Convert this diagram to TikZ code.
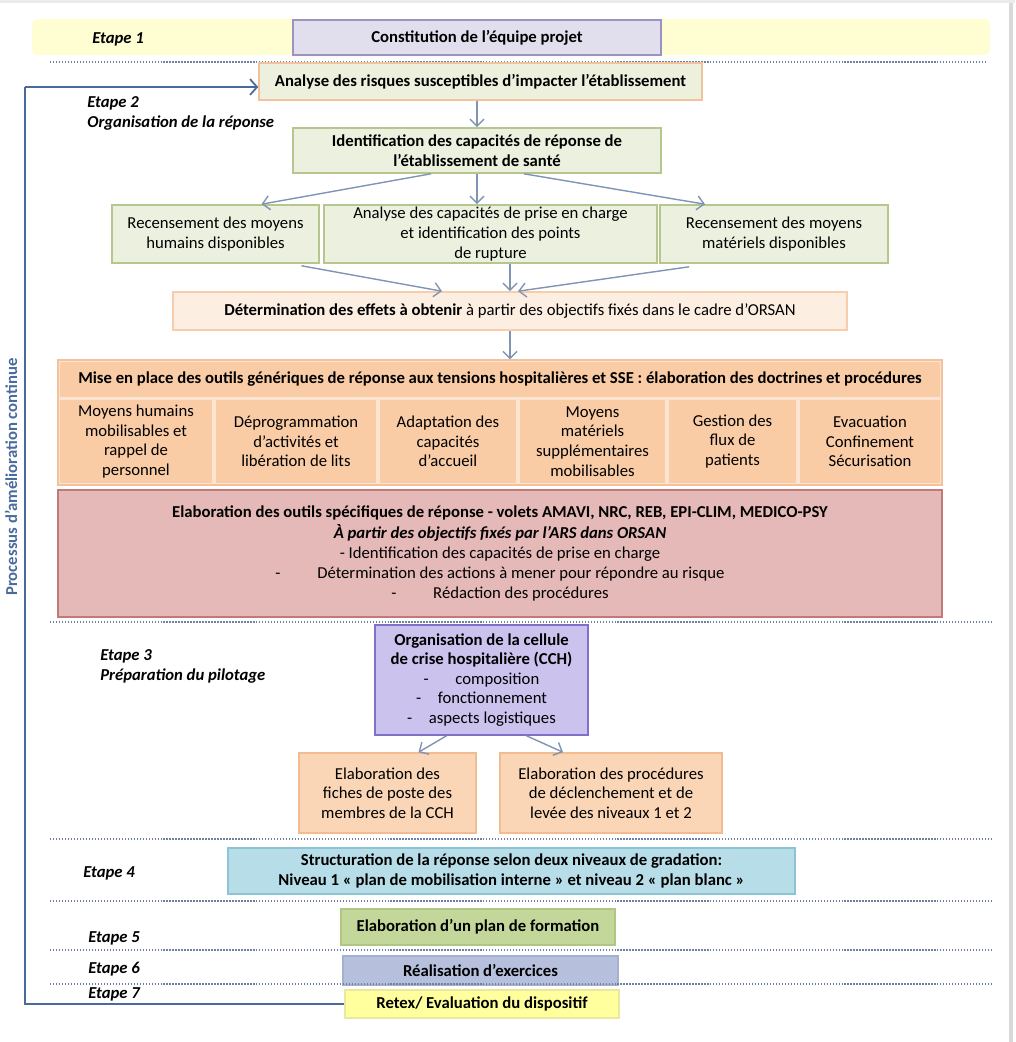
\documentclass[tikz,border=0pt]{standalone}
\usepackage{fontspec}
\setmainfont{Carlito}
\usetikzlibrary{arrows.meta,calc}
\definecolor{bandY}{HTML}{FEFED2}
\definecolor{lavF}{HTML}{E1DEEE}
\definecolor{lavD}{HTML}{9C94C0}
\definecolor{anaF}{HTML}{EEF0DE}
\definecolor{orD}{HTML}{F2C29C}
\definecolor{grF}{HTML}{EBF1DE}
\definecolor{grD}{HTML}{B5C78E}
\definecolor{detF}{HTML}{FDEEE2}
\definecolor{detD}{HTML}{F7CDAE}
\definecolor{orF}{HTML}{F9CCA6}
\definecolor{orBg}{HTML}{FBE4D2}
\definecolor{redF}{HTML}{E5B9B7}
\definecolor{redD}{HTML}{C27A78}
\definecolor{cchF}{HTML}{CCC2EE}
\definecolor{cchD}{HTML}{7F70C8}
\definecolor{pchF}{HTML}{FAD6B6}
\definecolor{pchD}{HTML}{F2BC90}
\definecolor{blF}{HTML}{B7DEE8}
\definecolor{blD}{HTML}{8CC4D4}
\definecolor{olF}{HTML}{C4D79B}
\definecolor{olD}{HTML}{B0C684}
\definecolor{bgF}{HTML}{B6C0DC}
\definecolor{bgD}{HTML}{A4B0D2}
\definecolor{yeF}{HTML}{FFFF9E}
\definecolor{yeD}{HTML}{E8E8A0}
\definecolor{fbC}{HTML}{4A6A9C}
\definecolor{arC}{HTML}{8094B4}
\definecolor{dotC}{HTML}{7080A0}
\newcommand\pbox[7][]{\node[bx,#1, minimum width={(#5-#3)*0.02cm}, minimum height={(#6-#4)*0.02cm}] (#2) at ({(#3+#5)/2},{(#4+#6)/2}) {#7};}
\begin{document}
\begin{tikzpicture}[x=0.02cm,y=-0.02cm,
  font=\fontsize{9.5}{11.2}\selectfont,
  bx/.style={draw, line width=0.9pt, inner sep=1pt, align=center},
  arr/.style={draw=arC, line width=0.8pt, -{Straight Barb[length=4pt,width=8pt]}},
  dotl/.style={draw=dotC, line width=1pt, dash pattern=on 0.8pt off 0.9pt},
  lbl/.style={font=\fontsize{9.5}{11.2}\selectfont\bfseries\itshape, anchor=base west, inner sep=0pt},
  fb/.style={draw=fbC, line width=1pt}]
\useasboundingbox (0,0) rectangle (1015,1042);
\draw[draw=black!15, line width=2pt] (1011,0) -- (1011,1042);
\draw[draw=black!8, line width=2pt] (0,1) -- (1015,1);

% Etape 1
\pbox[draw=none, fill=bandY, rounded corners=3pt]{band}{32}{19}{990}{55}{}
\pbox[fill=lavF, draw=lavD]{constit}{293}{20}{661}{55}{\bfseries Constitution de l’équipe projet}
\node[lbl] (e1) at (92,43) {Etape 1};
\draw[dotl] (50,62) -- (985,62);

% Etape 2
\pbox[fill=anaF, draw=orD]{analyse}{259}{63}{702}{100}{\bfseries Analyse des risques susceptibles d’impacter l’établissement}
\node[lbl] (e2) at (87,107) {Etape 2};
\node[lbl] (e2b) at (87,127) {Organisation de la réponse};
\pbox[fill=grF, draw=grD]{ident}{293}{128}{661}{173}{\bfseries Identification des capacités de réponse de\\\bfseries l’établissement de santé}
\pbox[fill=grF, draw=grD]{rh}{112}{205}{319}{263}{Recensement des moyens\\humains disponibles}
\pbox[fill=grF, draw=grD]{cap}{324}{205}{657}{263}{Analyse des capacités de prise en charge\\et identification des points\\de rupture}
\pbox[fill=grF, draw=grD]{rm}{660}{205}{888}{263}{Recensement des moyens\\matériels disponibles}
\pbox[fill=detF, draw=detD]{det}{173}{292}{847}{330}{\textbf{Détermination des effets à obtenir} à partir des objectifs fixés dans le cadre d’ORSAN}

\draw[arr] (analyse.south -| ident.north) -- (ident.north);
\draw[arr] ($(ident.south)+(-46,0)$) -- ($(rh.north)+(46,0)$);
\draw[arr] (ident.south) -- (ident.south |- cap.north);
\draw[arr] ($(ident.south)+(47,0)$) -- ($(rm.north)+(-69,0)$);
\draw[arr] ($(rh.south)+(86,2)$) -- ($(det.north)+(-68,0)$);
\draw[arr] (cap.south -| det.north) -- (det.north);
\draw[arr] ($(rm.south)+(-85,3)$) -- ($(det.north)+(8,0)$);

% outils generiques
\pbox[fill=orBg, draw=orD, line width=0.6pt]{gen}{58}{360}{942}{485}{}
\pbox[fill=orF, draw=none]{genh}{60}{362}{940}{397}{\bfseries Mise en place des outils génériques de réponse aux tensions hospitalières et SSE : élaboration des doctrines et procédures}
\pbox[fill=orF, draw=none]{c1}{60}{400}{212}{483}{Moyens humains\\mobilisables et\\rappel de\\personnel}
\pbox[fill=orF, draw=none]{c2}{216}{400}{376}{483}{Déprogrammation\\d’activités et\\libération de lits}
\pbox[fill=orF, draw=none]{c3}{380}{400}{516}{483}{Adaptation des\\capacités\\d’accueil}
\pbox[fill=orF, draw=none]{c4}{520}{400}{665}{483}{Moyens\\matériels\\supplémentaires\\mobilisables}
\pbox[fill=orF, draw=none]{c5}{669}{400}{796}{483}{Gestion des\\flux de\\patients}
\pbox[fill=orF, draw=none]{c6}{800}{400}{940}{483}{Evacuation\\Confinement\\Sécurisation}
\draw[arr] (det.south) -- (det.south |- gen.north);

% outils specifiques
\pbox[fill=redF, draw=redD, font=\fontsize{9.5}{11.4}\selectfont]{spec}{58}{490}{942}{617}{\textbf{Elaboration des outils spécifiques de réponse - volets AMAVI, NRC, REB, EPI-CLIM, MEDICO-PSY}\\\textbf{\itshape À partir des objectifs fixés par l’ARS dans ORSAN}\\- Identification des capacités de prise en charge\\-\hspace{2.2em}Détermination des actions à mener pour répondre au risque\\-\hspace{2.2em}Rédaction des procédures}
\draw[dotl] (50,622) -- (993,622);

% Etape 3
\node[lbl] (e3) at (100,660) {Etape 3};
\node[lbl] (e3b) at (100,680) {Préparation du pilotage};
\pbox[fill=cchF, draw=cchD, font=\fontsize{9.5}{11.1}\selectfont]{cch}{375}{625}{588}{735}{\bfseries Organisation de la cellule\\\bfseries de crise hospitalière (CCH)\\-\hspace{1.6em}composition\\-\hspace{1em}fonctionnement\\-\hspace{1em}aspects logistiques}
\pbox[fill=pchF, draw=pchD]{fiche}{299}{753}{476}{833}{Elaboration des\\fiches de poste des\\membres de la CCH}
\pbox[fill=pchF, draw=pchD]{proc}{500}{753}{722}{833}{Elaboration des procédures\\de déclenchement et de\\levée des niveaux 1 et 2}
\draw[arr] ($(cch.south)+(-35,0)$) -- ($(fiche.north)+(31,0)$);
\draw[arr] ($(cch.south)+(45,0)$) -- ($(proc.north)+(-48,0)$);
\draw[dotl] (50,839) -- (993,839);

% Etape 4
\node[lbl] (e4) at (83,877) {Etape 4};
\pbox[fill=blF, draw=blD, font=\fontsize{9.5}{11.4}\selectfont]{struct}{228}{848}{795}{894}{\bfseries Structuration de la réponse selon deux niveaux de gradation:\\\bfseries Niveau 1 « plan de mobilisation interne » et niveau 2 « plan blanc »}
\draw[dotl] (50,901) -- (993,901);

% Etape 5
\node[lbl] (e5) at (88,942) {Etape 5};
\pbox[fill=olF, draw=olD]{form}{341}{909}{615}{945}{\bfseries Elaboration d’un plan de formation}
\draw[dotl] (50,950) -- (993,950);

% Etape 6
\node[lbl] (e6) at (88,973) {Etape 6};
\pbox[fill=bgF, draw=bgD]{exer}{343}{956}{618}{985}{\bfseries Réalisation d’exercices}
\draw[dotl] (50,984) -- (993,984);

% Etape 7
\node[lbl] (e7) at (88,998) {Etape 7};
\pbox[fill=yeF, draw=yeD]{retex}{345}{990}{619}{1018}{\bfseries Retex/ Evaluation du dispositif}

% feedback loop
\coordinate (fbtop) at (25,87);
\draw[fb] (retex.west) -- (fbtop |- retex.west) -- (fbtop);
\draw[fb, -{Straight Barb[length=4pt,width=9pt]}] (fbtop) -- (analyse.west |- fbtop);
\node[rotate=90, text=fbC, inner sep=0pt, font=\fontsize{9.5}{11.2}\selectfont\bfseries] (proc_txt) at (11,477) {Processus d’amélioration continue};
\end{tikzpicture}
\end{document}
